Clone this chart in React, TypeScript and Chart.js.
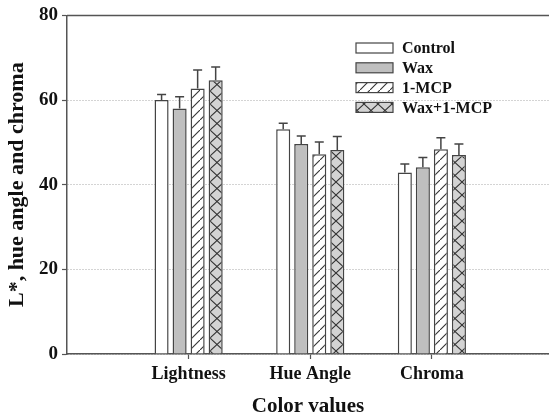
import { useEffect, useRef } from 'react';
import { Chart, registerables } from 'chart.js';

Chart.register(...registerables);

const categories = ['Lightness', 'Hue Angle', 'Chroma'];
const categoryPositions = [1, 2, 3];
const seriesNames = ['Control', 'Wax', '1-MCP', 'Wax+1-MCP'];
const controlValues = [60.0, 53.1, 42.9];
const controlErrors = [1.3, 1.4, 2.0];
const waxValues = [58.0, 49.6, 44.1];
const waxErrors = [2.8, 1.9, 2.3];
const mcpValues = [62.7, 47.2, 48.4];
const mcpErrors = [4.4, 2.9, 2.7];
const waxMcpValues = [64.7, 48.2, 47.0];
const waxMcpErrors = [3.1, 3.2, 2.6];
const yTicks = [0, 20, 40, 60, 80];

const FONT = "'Liberation Serif', 'Times New Roman', serif";
const AXIS = '#555';
const TEXT = '#111';
const EDGE = '#444';

function makePattern(kind: 'hatch' | 'cross'): CanvasPattern | string {
  const c = document.createElement('canvas');
  const w = kind === 'hatch' ? 10 : 14;
  const h = kind === 'hatch' ? 10 : 13;
  c.width = w;
  c.height = h;
  const g = c.getContext('2d');
  if (!g) return '#fff';
  g.fillStyle = kind === 'hatch' ? '#ffffff' : '#d3d3d3';
  g.fillRect(0, 0, w, h);
  g.strokeStyle = '#333';
  g.lineWidth = 1.1;
  g.beginPath();
  if (kind === 'hatch') {
    g.moveTo(-1, h + 1);
    g.lineTo(w + 1, -1);
  } else {
    g.moveTo(0, 0);
    g.lineTo(w, h);
    g.moveTo(0, h);
    g.lineTo(w, 0);
  }
  g.stroke();
  const p = g.createPattern(c, 'repeat');
  return p || '#fff';
}

export default function App() {
  const ref = useRef<HTMLCanvasElement>(null);

  useEffect(() => {
    const canvas = ref.current;
    if (!canvas) return;
    const values = [controlValues, waxValues, mcpValues, waxMcpValues];
    const errors = [controlErrors, waxErrors, mcpErrors, waxMcpErrors];
    const fills: (string | CanvasPattern)[] = ['#ffffff', '#bfbfbf', makePattern('hatch'), makePattern('cross')];

    const datasets = seriesNames.map((name, i) => ({
      label: name,
      data: categoryPositions.map((x, j) => ({ x, y: values[i][j] })),
      backgroundColor: fills[i],
      borderColor: EDGE,
      borderWidth: 1.5,
      categoryPercentage: 0.593,
      barPercentage: 0.78,
    }));

    const errorBars = {
      id: 'errorBars',
      afterDatasetsDraw(chart: any) {
        const ctx = chart.ctx;
        const ys = chart.scales.y;
        ctx.save();
        ctx.strokeStyle = EDGE;
        ctx.lineWidth = 1.5;
        chart.data.datasets.forEach((_: any, i: number) => {
          const meta = chart.getDatasetMeta(i);
          meta.data.forEach((el: any, j: number) => {
            const top = ys.getPixelForValue(values[i][j] + errors[i][j]);
            ctx.beginPath();
            ctx.moveTo(el.x, el.y);
            ctx.lineTo(el.x, top);
            ctx.moveTo(el.x - 4.5, top);
            ctx.lineTo(el.x + 4.5, top);
            ctx.stroke();
          });
        });
        ctx.restore();
      },
    };

    const frame = {
      id: 'frame',
      afterDraw(chart: any) {
        const { ctx, chartArea } = chart;
        ctx.save();
        ctx.strokeStyle = AXIS;
        ctx.lineWidth = 1.5;
        ctx.beginPath();
        ctx.moveTo(chartArea.left, chartArea.top);
        ctx.lineTo(chartArea.right, chartArea.top);
        ctx.stroke();
        ctx.restore();
      },
    };

    const legendBox = {
      id: 'legendBox',
      afterDraw(chart: any) {
        const ctx = chart.ctx;
        ctx.save();
        const bx = 356;
        const bw = 37;
        const bh = 10;
        const y0 = 48;
        const step = 19.8;
        ctx.font = `bold 16px ${FONT}`;
        ctx.textBaseline = 'middle';
        ctx.textAlign = 'left';
        seriesNames.forEach((name, i) => {
          const cy = y0 + i * step;
          ctx.fillStyle = fills[i];
          ctx.fillRect(bx, cy - bh / 2, bw, bh);
          ctx.strokeStyle = EDGE;
          ctx.lineWidth = 1.2;
          ctx.strokeRect(bx, cy - bh / 2, bw, bh);
          ctx.fillStyle = TEXT;
          ctx.fillText(name, bx + 46, cy + 1);
        });
        ctx.restore();
      },
    };

    const chart = new Chart(canvas, {
      type: 'bar',
      data: { datasets: datasets as any },
      options: {
        responsive: false,
        animation: false,
        layout: { padding: { top: 14, right: 0, left: 0, bottom: 0 } },
        plugins: { legend: { display: false }, tooltip: { enabled: false } },
        scales: {
          x: {
            type: 'linear',
            offset: false,
            min: 0,
            max: 3.963,
            afterBuildTicks: (s: any) => {
              s.ticks = categoryPositions.map((v) => ({ value: v }));
            },
            afterFit: (s: any) => {
              s.height = 62;
            },
            ticks: {
              callback: (v: any) => {
                const k = categoryPositions.indexOf(Number(v));
                return k >= 0 ? categories[k] : '';
              },
              font: { family: FONT, size: 18, weight: 'bold' },
              color: TEXT,
              padding: 5,
              maxRotation: 0,
              autoSkip: false,
            },
            grid: { offset: false, drawOnChartArea: false, tickLength: 5, tickColor: AXIS, tickWidth: 1.2 },
            border: { color: AXIS, width: 1.5 },
            title: {
              display: true,
              text: 'Color values',
              font: { family: FONT, size: 21, weight: 'bold', lineHeight: 1 },
              color: TEXT,
              padding: { top: 0, bottom: -1 },
            },
          },
          y: {
            min: 0,
            max: 80,
            afterBuildTicks: (s: any) => {
              s.ticks = yTicks.map((v) => ({ value: v }));
            },
            afterFit: (s: any) => {
              s.width = 67;
            },
            ticks: {
              font: { family: FONT, size: 19, weight: 'bold' },
              color: TEXT,
              padding: 4,
            },
            grid: {
              color: '#a8a8a8',
              lineWidth: 1,
              tickLength: 5,
              tickColor: AXIS,
              tickWidth: 1.2,
              tickBorderDash: [],
            },
            border: { color: AXIS, width: 1.5, dash: [1, 2] },
            title: {
              display: true,
              text: 'L*, hue angle and chroma',
              font: { family: FONT, size: 22, weight: 'bold', lineHeight: 1 },
              color: TEXT,
              padding: { top: 6, bottom: 0 },
            },
          },
        },
      } as any,
      plugins: [errorBars, frame, legendBox],
    });

    return () => chart.destroy();
  }, []);

  return (
    <div style={{ position: 'fixed', left: 0, top: 0, width: 549, height: 416, background: '#fff' }}>
      <canvas ref={ref} width={549} height={416} style={{ display: 'block' }} />
    </div>
  );
}
